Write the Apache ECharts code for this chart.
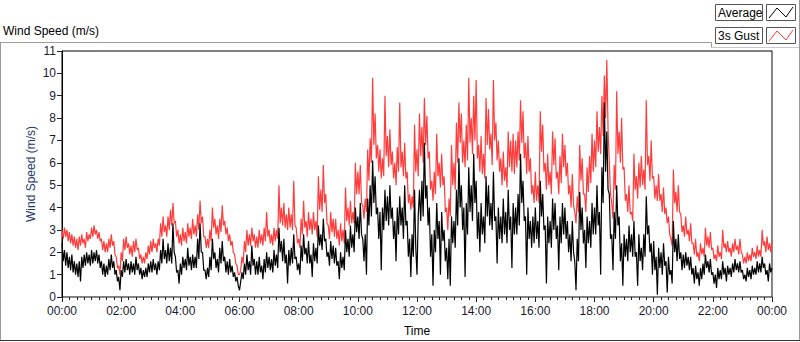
<!DOCTYPE html>
<html>
<head>
<meta charset="utf-8">
<script src="https://cdn.jsdelivr.net/npm/echarts@6/dist/echarts.min.js"></script>
<style>
  html, body { margin: 0; padding: 0; background: #fff; }
  #main { width: 800px; height: 342px; }
</style>
</head>
<body>
<div id="main"></div>
<script>
// readings every 2.5 minutes, 00:00 .. 24:00 (one row = one hour)
var stepMin = 2.5;

// 3s Gust (red)
var gustVals = [
  3.0, 2.6, 3.1, 2.7, 3.0, 2.5, 2.9, 2.4, 2.8, 2.3, 2.7, 2.2, 2.6, 2.1, 2.7, 2.3, 2.8, 2.4, 2.6, 2.2, 2.9, 2.5, 2.8, 2.6,
  3.1, 2.7, 3.2, 2.8, 3.0, 2.6, 2.9, 2.5, 2.6, 2.1, 2.5, 2.0, 2.4, 2.0, 2.6, 2.2, 2.8, 2.3, 2.5, 1.9, 1.8, 1.3, 1.4, 1.0,
  2.0, 1.6, 2.6, 2.1, 2.7, 2.2, 2.4, 1.9, 2.3, 1.8, 2.5, 2.0, 2.6, 2.1, 2.2, 1.7, 1.9, 1.5, 1.8, 1.5, 2.0, 1.7, 2.3, 1.9,
  2.5, 2.0, 2.6, 2.2, 2.4, 2.0, 2.6, 2.3, 3.3, 2.7, 3.6, 2.9, 3.2, 2.7, 3.6, 3.0, 3.9, 3.2, 4.2, 3.3, 3.4, 2.7, 3.0, 2.4,
  2.8, 2.3, 3.1, 2.5, 2.9, 2.4, 3.3, 2.7, 3.1, 2.6, 3.5, 2.8, 3.2, 2.7, 3.7, 3.0, 4.3, 3.3, 3.6, 2.7, 2.7, 2.2, 2.6, 2.2,
  3.0, 2.5, 4.0, 3.1, 3.5, 2.8, 3.2, 2.6, 3.5, 2.9, 4.1, 3.2, 3.4, 2.8, 3.1, 2.5, 2.8, 2.3, 2.5, 2.0, 1.9, 1.5, 1.4, 1.0,
  1.0, 1.2, 1.8, 1.5, 2.5, 2.0, 3.0, 2.3, 2.8, 2.3, 3.1, 2.5, 2.8, 2.2, 2.7, 2.2, 3.0, 2.4, 2.8, 2.3, 3.1, 2.5, 3.8, 2.7,
  3.0, 2.4, 2.8, 2.3, 3.1, 2.5, 3.0, 2.6, 5.0, 3.3, 4.0, 3.2, 4.2, 3.1, 3.7, 3.0, 4.0, 3.1, 3.7, 3.0, 5.2, 3.2, 3.1, 2.4,
  2.6, 2.2, 3.5, 2.8, 4.3, 3.1, 3.4, 2.7, 3.8, 3.0, 3.5, 2.8, 3.8, 3.0, 3.4, 2.7, 5.4, 3.9, 4.8, 3.8, 5.9, 4.2, 4.6, 3.3,
  3.2, 2.6, 3.8, 2.9, 3.5, 2.7, 3.5, 2.6, 3.0, 2.3, 3.3, 2.5, 3.0, 2.4, 4.9, 3.4, 4.0, 3.2, 4.3, 3.3, 3.8, 3.3, 6.0, 4.6,
  5.6, 4.6, 5.9, 4.2, 4.1, 3.5, 4.4, 3.8, 6.6, 5.2, 7.1, 6.0, 9.8, 6.8, 8.2, 6.2, 6.8, 5.6, 6.6, 5.3, 6.2, 5.4, 9.0, 6.3,
  7.2, 5.8, 7.5, 5.9, 6.5, 5.3, 6.0, 5.0, 6.7, 5.6, 8.7, 5.8, 6.5, 5.4, 6.9, 5.3, 5.6, 4.2, 4.6, 3.9, 4.5, 4.0, 7.7, 5.6,
  6.6, 5.4, 8.2, 6.3, 7.6, 6.0, 8.9, 6.8, 8.1, 6.2, 6.5, 4.8, 5.2, 4.3, 5.6, 4.6, 7.3, 5.4, 6.0, 4.9, 6.4, 5.0, 5.4, 3.8,
  4.0, 3.0, 4.4, 3.6, 6.8, 5.0, 6.0, 4.8, 7.8, 6.0, 8.7, 6.9, 8.2, 6.0, 7.0, 5.8, 7.7, 6.1, 9.8, 6.9, 8.0, 6.4, 9.0, 7.0,
  9.7, 6.2, 6.8, 5.6, 7.2, 5.5, 6.4, 5.3, 8.9, 6.8, 8.4, 6.6, 7.3, 5.9, 9.7, 7.0, 7.8, 6.1, 7.0, 5.6, 6.2, 5.0, 6.5, 5.2,
  5.8, 4.9, 7.4, 5.8, 7.0, 5.6, 7.3, 5.5, 7.0, 5.8, 7.4, 6.1, 8.8, 6.9, 8.3, 6.2, 6.9, 5.5, 7.2, 5.6, 6.2, 4.6, 5.0, 4.2,
  5.6, 4.3, 5.0, 4.2, 8.3, 6.5, 7.7, 5.6, 6.0, 4.8, 6.4, 5.0, 5.6, 4.6, 7.4, 5.9, 7.1, 5.3, 5.6, 4.6, 6.3, 5.1, 7.3, 5.8,
  6.8, 5.4, 6.0, 4.6, 5.0, 4.0, 5.5, 4.1, 3.8, 3.3, 4.5, 3.8, 6.8, 5.2, 6.2, 4.6, 4.6, 3.8, 5.8, 4.7, 6.3, 5.1, 7.3, 5.6,
  7.0, 5.8, 8.3, 6.5, 7.6, 6.4, 9.0, 7.2, 9.9, 8.0, 10.6, 7.5, 6.0, 4.6, 4.2, 3.5, 5.9, 4.8, 9.2, 6.4, 7.4, 6.0, 8.0, 5.7,
  5.8, 4.3, 4.6, 3.8, 5.0, 3.7, 3.8, 3.4, 6.4, 4.8, 5.4, 4.4, 6.0, 4.9, 6.3, 5.0, 5.7, 4.8, 8.8, 5.9, 6.3, 5.2, 7.0, 5.3,
  5.4, 4.4, 5.0, 4.3, 5.5, 4.3, 4.6, 3.8, 4.9, 3.7, 4.0, 3.3, 3.6, 2.8, 2.6, 2.3, 5.7, 4.2, 4.7, 3.8, 5.0, 3.8, 3.7, 2.9,
  3.2, 2.7, 3.6, 2.8, 3.0, 2.5, 3.3, 2.4, 2.4, 1.9, 2.6, 1.8, 2.0, 1.6, 2.4, 1.9, 2.2, 1.8, 3.1, 2.3, 2.7, 2.2, 2.9, 2.1,
  2.2, 1.7, 1.9, 1.6, 2.3, 1.8, 2.0, 1.7, 3.0, 2.2, 2.4, 2.0, 2.5, 2.0, 2.2, 1.8, 2.4, 2.0, 2.6, 2.1, 2.3, 1.9, 2.6, 2.0,
  1.9, 1.5, 1.8, 1.5, 2.0, 1.6, 1.9, 1.6, 2.2, 1.8, 2.0, 1.7, 2.3, 1.8, 2.1, 1.8, 3.0, 2.3, 2.5, 2.0, 2.7, 2.1, 2.4, 2.0,
  2.5
];

// Average (black)
var avgVals = [
  2.4, 1.6, 2.1, 1.4, 2.0, 1.3, 1.8, 1.2, 1.9, 1.1, 1.6, 1.0, 1.5, 0.9, 1.6, 0.7, 1.8, 1.3, 1.9, 1.4, 2.0, 1.5, 1.9, 1.4,
  2.1, 1.5, 2.0, 1.6, 2.1, 1.5, 1.9, 1.3, 1.6, 1.0, 1.5, 0.9, 1.4, 1.0, 1.7, 1.2, 1.9, 1.3, 1.6, 1.0, 1.2, 0.7, 0.9, 0.3,
  1.2, 0.9, 1.6, 1.1, 1.7, 1.2, 1.5, 1.0, 1.6, 1.1, 1.5, 1.0, 1.8, 1.2, 1.5, 1.0, 1.3, 0.8, 1.2, 0.9, 1.3, 0.9, 1.5, 1.1,
  1.6, 1.1, 1.7, 1.2, 1.5, 1.0, 1.6, 1.2, 2.1, 1.5, 2.6, 1.7, 2.1, 1.5, 2.4, 1.6, 2.2, 1.5, 3.3, 2.0, 1.8, 1.1, 1.2, 0.6,
  1.5, 1.0, 1.8, 1.3, 1.7, 1.2, 2.2, 1.4, 1.8, 1.2, 1.9, 1.3, 1.8, 1.3, 2.6, 1.7, 3.3, 2.0, 2.0, 1.2, 1.2, 0.8, 1.3, 0.9,
  1.8, 1.2, 2.6, 1.7, 2.0, 1.3, 1.7, 1.1, 2.2, 1.5, 2.5, 1.6, 1.8, 1.1, 1.6, 1.0, 1.7, 1.1, 1.4, 0.9, 1.1, 0.7, 0.9, 0.5,
  0.3, 0.7, 1.1, 0.8, 1.5, 1.0, 1.9, 1.2, 1.6, 1.0, 2.3, 1.4, 1.7, 1.0, 1.6, 1.0, 1.8, 1.1, 1.4, 0.8, 1.7, 1.1, 2.0, 1.3,
  1.8, 1.2, 1.7, 1.1, 2.1, 1.4, 1.9, 1.3, 3.1, 2.0, 2.5, 1.6, 2.6, 1.5, 1.9, 0.6, 2.1, 1.4, 2.2, 1.5, 2.8, 1.7, 1.8, 1.2,
  1.5, 1.0, 2.3, 1.6, 2.8, 1.9, 2.2, 1.5, 2.5, 1.5, 1.9, 0.9, 2.4, 1.6, 2.2, 1.5, 3.2, 2.3, 2.8, 2.1, 3.5, 2.5, 2.6, 1.8,
  2.0, 1.4, 2.5, 1.7, 2.3, 1.5, 2.2, 1.4, 1.6, 0.8, 2.0, 1.3, 1.8, 1.2, 3.0, 2.0, 2.6, 1.8, 3.2, 2.2, 2.8, 2.0, 4.0, 2.9,
  3.6, 2.6, 4.2, 2.8, 2.6, 1.6, 2.8, 1.0, 4.4, 3.2, 5.0, 3.6, 6.1, 4.2, 5.4, 3.7, 4.0, 2.6, 3.8, 1.2, 4.0, 3.0, 4.8, 3.4,
  4.5, 3.2, 5.0, 3.5, 4.0, 2.6, 3.4, 1.6, 4.0, 2.8, 4.5, 3.2, 4.0, 2.6, 5.0, 3.2, 3.4, 1.8, 2.6, 0.9, 2.8, 1.8, 4.8, 2.2,
  1.0, 3.6, 4.8, 3.4, 5.2, 3.6, 6.9, 4.4, 5.0, 3.2, 4.0, 1.8, 2.8, 0.5, 3.0, 2.0, 4.2, 2.6, 3.4, 1.0, 3.8, 2.5, 3.0, 1.6,
  2.2, 0.8, 2.6, 0.5, 3.6, 2.4, 3.4, 2.2, 4.8, 3.2, 6.2, 4.0, 5.0, 3.0, 4.0, 0.9, 4.2, 2.8, 5.8, 3.8, 5.0, 3.4, 6.4, 4.2,
  5.2, 2.6, 3.8, 2.0, 4.2, 2.8, 3.6, 2.4, 5.4, 3.6, 5.0, 3.2, 4.2, 3.0, 5.6, 3.4, 3.6, 1.5, 4.0, 2.6, 3.6, 2.4, 4.4, 2.8,
  3.8, 2.4, 4.8, 3.0, 3.6, 1.3, 4.2, 2.8, 4.0, 2.8, 4.6, 3.2, 6.4, 4.2, 5.2, 3.4, 3.6, 1.0, 4.0, 2.6, 3.4, 2.2, 3.6, 2.4,
  4.0, 2.6, 3.4, 2.2, 5.2, 3.6, 4.6, 3.0, 3.2, 0.6, 3.6, 2.4, 3.4, 2.2, 4.4, 3.0, 4.2, 2.6, 3.2, 1.2, 3.6, 2.4, 4.2, 2.8,
  4.0, 2.6, 3.4, 2.0, 2.8, 1.6, 3.4, 2.0, 1.6, 0.3, 2.6, 1.6, 4.7, 3.0, 4.0, 2.4, 3.0, 1.3, 3.6, 2.4, 3.4, 2.2, 4.2, 2.8,
  4.0, 2.8, 5.0, 3.2, 3.8, 1.0, 5.8, 4.2, 8.7, 5.6, 7.4, 4.8, 4.6, 2.6, 2.8, 1.2, 3.8, 2.6, 5.0, 3.2, 3.6, 1.6, 2.4, 0.5,
  2.8, 1.8, 2.6, 1.6, 3.2, 2.0, 2.8, 1.8, 3.4, 1.8, 2.0, 0.5, 2.8, 1.6, 2.2, 1.2, 2.8, 1.8, 4.5, 2.8, 3.2, 2.0, 2.4, 1.0,
  2.5, 1.2, 1.8, 0.1, 2.2, 1.3, 2.0, 1.0, 2.4, 1.4, 1.6, 0.2, 1.8, 1.0, 1.2, 0.6, 3.4, 2.0, 2.6, 1.6, 2.8, 1.7, 2.0, 1.2,
  1.9, 1.3, 2.0, 1.4, 1.8, 1.2, 1.8, 1.0, 1.3, 0.6, 1.4, 0.8, 1.1, 0.5, 1.3, 0.8, 1.5, 1.0, 1.9, 1.3, 1.6, 1.1, 1.7, 1.0,
  1.1, 0.6, 1.0, 0.4, 1.3, 0.8, 1.2, 0.8, 1.6, 1.0, 1.3, 0.7, 1.4, 1.0, 1.3, 0.9, 1.5, 1.1, 1.7, 1.2, 1.5, 1.1, 1.6, 1.1,
  1.2, 0.8, 1.0, 0.7, 1.3, 0.9, 1.2, 0.8, 1.4, 1.0, 1.3, 1.0, 1.6, 1.1, 1.5, 1.1, 1.8, 1.3, 1.5, 1.0, 1.2, 0.7, 1.5, 1.1,
  1.3
];

var yTicks = [0, 11, 1];          // min, max, interval
var xTicks = [0, 1440, 120];      // minutes: min, max, interval (2 h)

function pairs(vals) {
  var out = [];
  for (var i = 0; i < vals.length; i++) {
    out.push([i * stepMin, vals[i]]);
  }
  return out;
}

function hhmm(v) {
  var h = Math.floor(v / 60) % 24, m = Math.round(v % 60);
  return (h < 10 ? '0' : '') + h + ':' + (m < 10 ? '0' : '') + m;
}

var font = 'Liberation Sans';
var txt = '#1a1a2e';

var myChart = echarts.init(document.getElementById('main'), null, { renderer: 'svg' });

myChart.setOption({
  animation: false,
  backgroundColor: '#fff',
  textStyle: { fontFamily: font, fontSize: 12 },
  title: {
    text: 'Wind Speed (m/s)',
    left: 3, top: 25,
    padding: 0,
    textStyle: { fontFamily: font, fontSize: 12, fontWeight: 'normal', color: '#000' }
  },
  grid: {
    left: 62, right: 28, top: 51, bottom: 39,
    show: true, borderColor: '#000', borderWidth: 1, backgroundColor: '#fff'
  },
  xAxis: {
    type: 'value',
    min: xTicks[0], max: xTicks[1], interval: xTicks[2],
    name: 'Time',
    nameLocation: 'middle',
    nameGap: 28,
    nameMoveOverlap: false,
    nameTextStyle: { color: '#000', fontSize: 12, fontFamily: font },
    axisLine: { lineStyle: { color: '#8a8a8a', width: 1 } },
    axisTick: { show: true, length: 5, lineStyle: { color: '#222' } },
    minorTick: { show: true, splitNumber: 8, length: 3, lineStyle: { color: '#222' } },
    splitLine: { show: false },
    axisLabel: { color: txt, margin: 8, fontSize: 12, formatter: hhmm }
  },
  yAxis: [{
    type: 'value',
    min: yTicks[0], max: yTicks[1], interval: yTicks[2],
    name: 'Wind Speed (m/s)',
    nameLocation: 'middle',
    nameGap: 25,
    nameMoveOverlap: false,
    nameTextStyle: { color: '#1e3a6e', fontSize: 12, fontFamily: font },
    axisLine: { show: true, lineStyle: { color: '#000', width: 1 } },
    axisTick: { show: true, length: 5, lineStyle: { color: '#222' } },
    splitLine: { show: false },
    axisLabel: { color: txt, margin: 6, fontSize: 12 }
  }, {
    type: 'value',
    position: 'right',
    min: yTicks[0], max: yTicks[1], interval: yTicks[2],
    axisLine: { show: true, lineStyle: { color: '#8a8a8a', width: 1 } },
    axisTick: { show: false },
    axisLabel: { show: false },
    splitLine: { show: false }
  }],
  series: [{
    name: '3s Gust',
    type: 'line',
    data: pairs(gustVals),
    showSymbol: false,
    lineStyle: { color: '#ff3c3c', width: 1.2 },
    itemStyle: { color: '#ff3c3c' },
    z: 2
  }, {
    name: 'Average',
    type: 'line',
    data: pairs(avgVals),
    showSymbol: false,
    lineStyle: { color: '#000', width: 1.2 },
    itemStyle: { color: '#000' },
    z: 3
  }],
  graphic: [
    // panel outline
    { type: 'line', shape: { x1: 0, y1: 42.5, x2: 711.5, y2: 42.5 }, style: { stroke: '#9a9a9a', lineWidth: 1 } },
    { type: 'line', shape: { x1: 711.5, y1: 42.5, x2: 711.5, y2: 47.5 }, style: { stroke: '#9a9a9a', lineWidth: 1 } },
    { type: 'line', shape: { x1: 711.5, y1: 47.5, x2: 799, y2: 47.5 }, style: { stroke: '#c8c8c8', lineWidth: 1 } },
    { type: 'line', shape: { x1: 0.5, y1: 42, x2: 0.5, y2: 341 }, style: { stroke: '#9a9a9a', lineWidth: 1 } },
    { type: 'line', shape: { x1: 799.5, y1: 0, x2: 799.5, y2: 341 }, style: { stroke: '#9a9a9a', lineWidth: 1 } },
    { type: 'line', shape: { x1: 0, y1: 340.5, x2: 800, y2: 340.5 }, style: { stroke: '#333', lineWidth: 1 } },
    // legend: Average
    { type: 'rect', shape: { x: 715.5, y: 4.5, width: 47, height: 16 }, style: { fill: '#fff', stroke: '#555', lineWidth: 1 } },
    { type: 'text', x: 718, y: 13, style: { text: 'Average', fill: '#000', font: '12px "Liberation Sans"', verticalAlign: 'middle' } },
    { type: 'rect', shape: { x: 766.5, y: 4.5, width: 29, height: 16 }, style: { fill: '#fff', stroke: '#555', lineWidth: 1 } },
    { type: 'polyline', shape: { points: [[769, 18], [777, 8], [786, 17], [793, 7]] }, style: { stroke: '#000', lineWidth: 1, fill: null } },
    // legend: 3s Gust
    { type: 'rect', shape: { x: 715.5, y: 27.5, width: 47, height: 16 }, style: { fill: '#fff', stroke: '#555', lineWidth: 1 } },
    { type: 'text', x: 718, y: 36, style: { text: '3s Gust', fill: '#000', font: '12px "Liberation Sans"', verticalAlign: 'middle' } },
    { type: 'rect', shape: { x: 766.5, y: 27.5, width: 29, height: 16 }, style: { fill: '#fff', stroke: '#555', lineWidth: 1 } },
    { type: 'polyline', shape: { points: [[769, 41], [777, 31], [786, 40], [793, 30]] }, style: { stroke: '#ff3c3c', lineWidth: 1, fill: null } }
  ]
});
</script>
</body>
</html>
